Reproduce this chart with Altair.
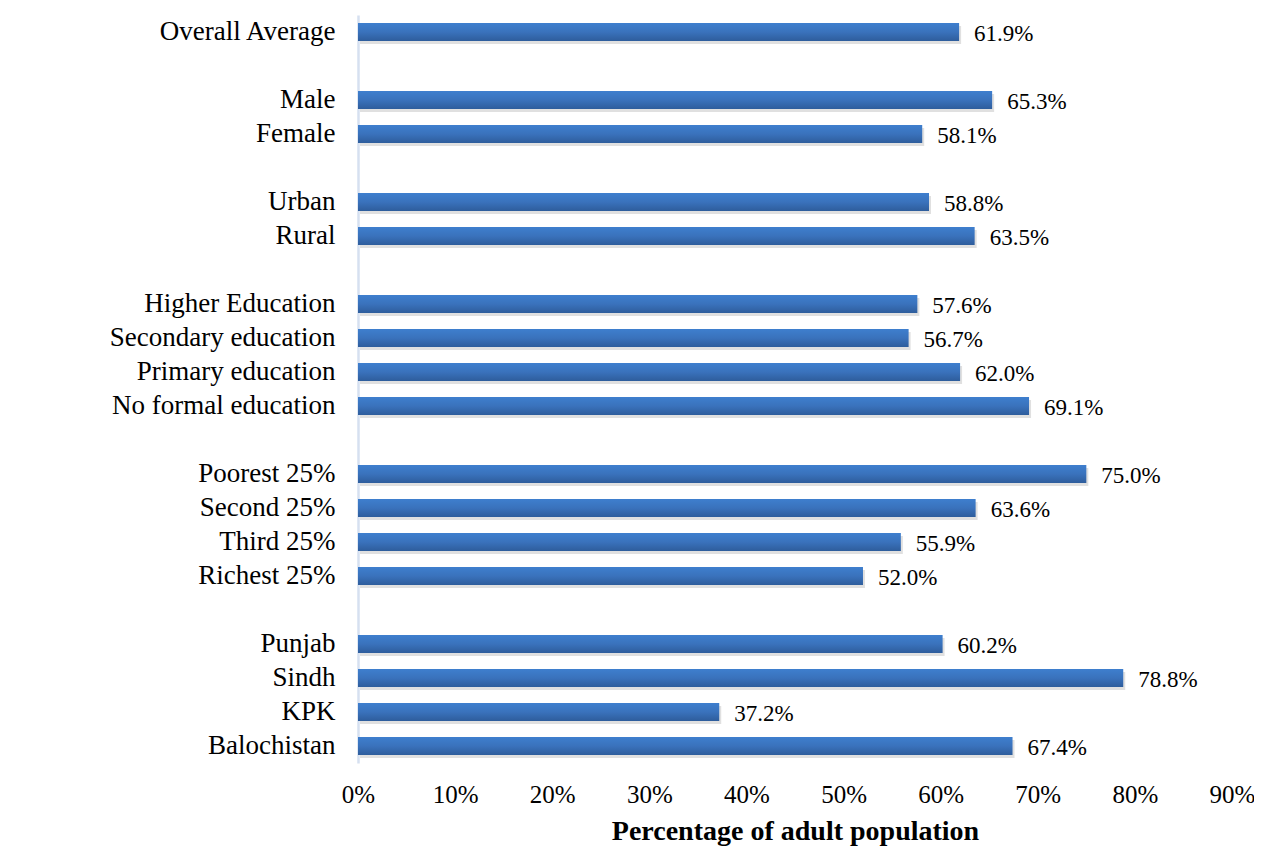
import altair as alt
import pandas as pd

categories = ["Overall Average", "Male", "Female", "Urban", "Rural",
              "Higher Education", "Secondary education", "Primary education",
              "No formal education", "Poorest 25%", "Second 25%", "Third 25%",
              "Richest 25%", "Punjab", "Sindh", "KPK", "Balochistan"]
values = [61.9, 65.3, 58.1, 58.8, 63.5, 57.6, 56.7, 62.0, 69.1,
          75.0, 63.6, 55.9, 52.0, 60.2, 78.8, 37.2, 67.4]

# Row order with blank spacer rows between groups
row_order = ["Overall Average", " ", "Male", "Female", "  ", "Urban", "Rural", "   ",
             "Higher Education", "Secondary education", "Primary education",
             "No formal education", "    ", "Poorest 25%", "Second 25%", "Third 25%",
             "Richest 25%", "     ", "Punjab", "Sindh", "KPK", "Balochistan"]

df = pd.DataFrame({"cat": categories, "val": values})

FONT = "Liberation Serif"

y = alt.Y("cat:N", sort=row_order,
          scale=alt.Scale(domain=row_order, paddingInner=0.47, paddingOuter=0.235),
          axis=alt.Axis(title=None, labelFont=FONT, labelFontSize=27, labelColor="black",
                        labelPadding=23, ticks=False, domainColor="#D6E0F0",
                        domainWidth=2.5, labelLimit=400))
x = alt.X("val:Q", scale=alt.Scale(domain=[0, 90], nice=False),
          axis=alt.Axis(title="Percentage of adult population", values=list(range(0, 91, 10)),
                        labelExpr="datum.value + '%'", labelFont=FONT, labelFontSize=25,
                        labelColor="black", labelPadding=19, labelFlush=False,
                        labelOverlap=False, ticks=False, domain=False,
                        grid=False, titleFont=FONT, titleFontSize=28, titleFontWeight="bold",
                        titleColor="black", titlePadding=10))

base = alt.Chart(df)

shadow = base.mark_bar(color="#000000", opacity=0.12, yOffset=3, xOffset=2).encode(x=x, y=y)

bars = base.mark_bar(
    color=alt.Gradient(gradient="linear", x1=0, y1=0, x2=0, y2=1,
                       stops=[alt.GradientStop(color="#3E7FCE", offset=0),
                              alt.GradientStop(color="#3A72BC", offset=0.5),
                              alt.GradientStop(color="#2E5D9C", offset=1)])
).encode(x=x, y=y)

labels = base.transform_calculate(
    lab="format(datum.val, '.1f') + '%'"
).mark_text(align="left", baseline="middle", dx=15, dy=2, font=FONT, fontSize=23,
            color="black").encode(x=x, y=y, text="lab:N")

chart = alt.layer(shadow, bars, labels).properties(
    width=874, height=748,
    autosize=alt.AutoSizeParams(type="none"),
    padding={"left": 350, "top": 7, "right": 22, "bottom": 84},
).configure_view(stroke=None)

chart.save("out.html", embed_options={"renderer": "svg", "actions": False})
